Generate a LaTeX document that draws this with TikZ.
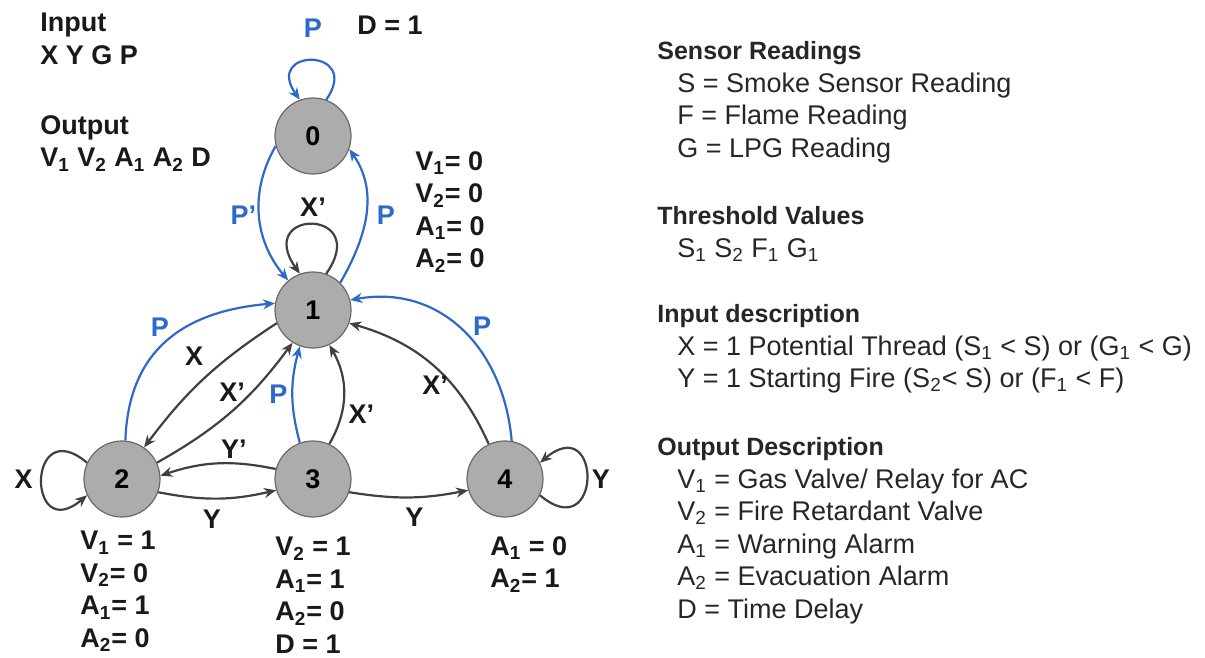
\documentclass[tikz,border=0pt]{standalone}
\usepackage{fontspec}
\setmainfont{Liberation Sans}
\usepackage{xcolor}
\usetikzlibrary{arrows.meta}
\definecolor{pblue}{RGB}{44,105,200}
\definecolor{edgegray}{RGB}{64,64,64}
\definecolor{statefill}{RGB}{172,172,172}
\definecolor{stateline}{RGB}{105,105,105}
\newcommand{\idx}[1]{\textsubscript{#1}}
\tikzset{
  state/.style={circle, draw=stateline, fill=statefill, line width=0.6pt, minimum size=38pt, inner sep=0pt, font=\fontsize{13.5}{16}\selectfont\bfseries},
  lbl/.style={font=\fontsize{13.5}{16}\selectfont\bfseries, inner sep=1pt, text=black!90},
  plbl/.style={lbl, text=pblue},
  outs/.style={font=\fontsize{13.5}{16.25}\selectfont\bfseries, align=left, anchor=north west, inner sep=0pt, text=black!90},
  info/.style={font=\fontsize{13.5}{16.25}\selectfont, align=left, anchor=north west, inner sep=0pt, text=black!85},
  tr/.style={->, draw=edgegray, line width=1.1pt},
  ptr/.style={->, draw=pblue, line width=1.1pt},
  >={Stealth[length=6pt,width=5pt]}
}

\begin{document}
\begin{tikzpicture}[x=0.5pt,y=0.5pt]
\useasboundingbox (0,0) rectangle (1205,-658);

% states
\node[state] (n0) at (313,-136) {0};
\node[state] (n1) at (313,-310) {1};
\node[state] (n2) at (122,-479) {2};
\node[state] (n3) at (313,-479) {3};
\node[state] (n4) at (505,-479) {4};

% inputs and outputs
\node[outs] (inlist) at (40,-13) {Input\\X Y G P};
\node[outs] (outlist) at (40,-115) {Output\\V\idx{1} V\idx{2} A\idx{1} A\idx{2} D};
\node[outs] (delay) at (357,-16) {D = 1};

% outputs of the states
\node[outs] (out1) at (415,-151) {V\idx{1}= 0\\V\idx{2}= 0\\A\idx{1}= 0\\A\idx{2}= 0};
\node[outs] (out2) at (80,-531) {V\idx{1} = 1\\V\idx{2}= 0\\A\idx{1}= 1\\A\idx{2}= 0};
\node[outs] (out3) at (275,-537) {V\idx{2} = 1\\A\idx{1}= 1\\A\idx{2}= 0\\D = 1};
\node[outs] (out4) at (490,-536) {A\idx{1} = 0\\A\idx{2}= 1};

% self loops
\draw[ptr] (n0.70) to[out=55,in=125,looseness=6.2] node[plbl, above=10pt] {P} (n0.110);
\draw[tr] (n1.70) to[out=55,in=125,looseness=7.8] node[lbl, above=2.5pt] {X'} (n1.110);
\draw[tr] (n2.155) to[out=140,in=220,looseness=6.2] node[lbl, left=3pt] {X} (n2.205);
\draw[tr] (n4.335) to[out=320,in=40,looseness=6.4] node[lbl, right=1pt] {Y} (n4.25);

% between 0 and 1
\draw[ptr] (n0.195) to[out=240,in=130] node[plbl, left] {P'} (n1.130);
\draw[ptr] (n1.45) to[out=60,in=305] node[plbl, right=4pt] {P} (n0.340);

% into and out of 1
\draw[ptr] (n2.85) to[out=88,in=185,looseness=1.15] node[plbl, pos=0.45, above=4pt] {P} (n1.170);
\draw[tr] (n1.200) to[bend right=10] node[lbl, pos=0.45, above left=2pt] {X} (n2.55);
\draw[tr] (n2.25) to[bend right=12] node[lbl, above=3pt] {X'} (n1.238);
\draw[ptr] (n3.110) to[bend left=15] node[plbl, left=1pt] {P} (n1.250);
\draw[tr] (n3.65) to[bend right=30] node[lbl, pos=0.3, right=2pt] {X'} (n1.295);
\draw[tr] (n4.115) to[bend right=25] node[lbl, pos=0.35, left=1pt] {X'} (n1.340);
\draw[ptr] (n4.80) to[out=95,in=10,looseness=1.1] node[plbl, pos=0.45, above right=0pt] {P} (n1.15);

% along the bottom
\draw[tr] (n3.165) to[bend right=15] node[lbl, pos=0.35, above=1pt] {Y'} (n2.5);
\draw[tr] (n2.340) to[bend right=12] node[lbl, pos=0.45, below=4pt] {Y} (n3.197);
\draw[tr] (n3.340) to[bend right=10] node[lbl, pos=0.55, below=4pt] {Y} (n4.197);

% legend
\node[info] (sensors) at (657,-41) {\textbf{\fontsize{12.5}{16.25}\selectfont Sensor Readings}\\
  \hspace*{10pt}S = Smoke Sensor Reading\\
  \hspace*{10pt}F = Flame Reading\\
  \hspace*{10pt}G = LPG Reading};
\node[info] (limits) at (657,-206) {\textbf{\fontsize{12.5}{16.25}\selectfont Threshold Values}\\
  \hspace*{10pt}S\idx{1} S\idx{2} F\idx{1} G\idx{1}};
\node[info] (indesc) at (657,-304) {\textbf{\fontsize{12.5}{16.25}\selectfont Input description}\\
  \hspace*{10pt}X = 1 Potential Thread (S\idx{1} < S) or (G\idx{1} < G)\\
  \hspace*{10pt}Y = 1 Starting Fire (S\idx{2}< S) or (F\idx{1} < F)};
\node[info] (outdesc) at (657,-437) {\textbf{\fontsize{12.5}{16.25}\selectfont Output Description}\\
  \hspace*{10pt}V\idx{1} = Gas Valve/ Relay for AC\\
  \hspace*{10pt}V\idx{2} = Fire Retardant Valve\\
  \hspace*{10pt}A\idx{1} = Warning Alarm\\
  \hspace*{10pt}A\idx{2} = Evacuation Alarm\\
  \hspace*{10pt}D = Time Delay};
\end{tikzpicture}
\end{document}
